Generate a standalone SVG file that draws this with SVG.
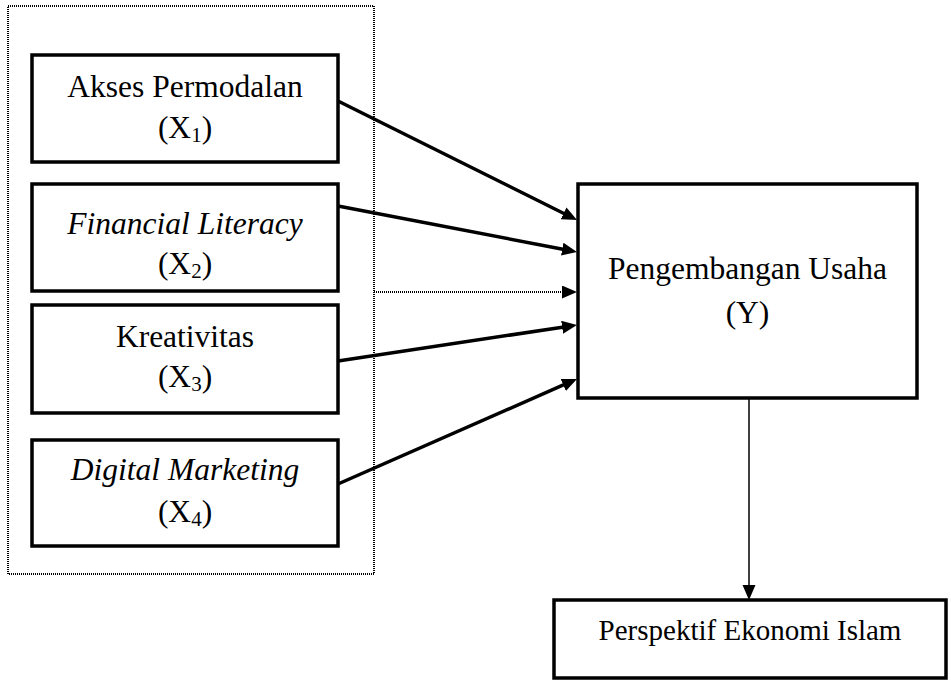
<svg xmlns="http://www.w3.org/2000/svg" width="951" height="680" viewBox="0 0 951 680">
<style>
  .box { fill: #fff; stroke: #000; stroke-width: 3.5; }
  .t { font-family: "Liberation Serif", "Times New Roman", serif; font-size: 31.5px; fill: #000; text-anchor: middle; }
  .i { font-style: italic; }
  .sub { font-size: 21px; }
  .dot { fill: none; stroke: #000; stroke-width: 2; stroke-dasharray: 1 1; shape-rendering: crispEdges; }
  .arr { fill: none; stroke: #000; stroke-width: 3.5; }
  .thin { fill: none; stroke: #000; stroke-width: 1.5; }
</style>
<defs>
  <marker id="ah" markerUnits="userSpaceOnUse" markerWidth="16" markerHeight="14" refX="2" refY="6.5" orient="auto">
    <path d="M0,0 L15,6.5 L0,13 z" fill="#000"/>
  </marker>
</defs>
<rect width="951" height="680" fill="#fff"/>
<g id="group-x">
  <rect class="dot" x="8" y="6" width="366" height="568"/>
</g>
<g id="connectors">
  <line class="arr" x1="338" y1="101" x2="565.4" y2="214.2" marker-end="url(#ah)"/>
  <line class="arr" x1="338" y1="206" x2="564.2" y2="249.5" marker-end="url(#ah)"/>
  <line class="dot" x1="374" y1="292" x2="564" y2="292" marker-end="url(#ah)"/>
  <line class="arr" x1="338" y1="361" x2="564.1" y2="326.9" marker-end="url(#ah)"/>
  <line class="arr" x1="338" y1="484" x2="565.1" y2="384.2" marker-end="url(#ah)"/>
  <line class="thin" x1="749" y1="398" x2="749" y2="587" marker-end="url(#ah)"/>
</g>
<g id="x1">
  <rect class="box" x="32" y="55" width="306" height="107"/>
  <text class="t" x="185" y="97">Akses Permodalan</text>
  <text class="t" x="185" y="138">(X<tspan class="sub" dy="4">1</tspan><tspan dy="-4">)</tspan></text>
</g>
<g id="x2">
  <rect class="box" x="32" y="184" width="306" height="107"/>
  <text class="t i" x="185" y="234">Financial Literacy</text>
  <text class="t" x="185" y="274">(X<tspan class="sub" dy="4">2</tspan><tspan dy="-4">)</tspan></text>
</g>
<g id="x3">
  <rect class="box" x="32" y="305" width="306" height="108"/>
  <text class="t" x="185" y="347">Kreativitas</text>
  <text class="t" x="185" y="387">(X<tspan class="sub" dy="4">3</tspan><tspan dy="-4">)</tspan></text>
</g>
<g id="x4">
  <rect class="box" x="32" y="440" width="306" height="106"/>
  <text class="t i" x="185" y="480">Digital Marketing</text>
  <text class="t" x="185" y="522">(X<tspan class="sub" dy="4">4</tspan><tspan dy="-4">)</tspan></text>
</g>
<g id="y">
  <rect class="box" x="578" y="184" width="339" height="214"/>
  <text class="t" x="747.5" y="279">Pengembangan Usaha</text>
  <text class="t" x="747.5" y="323">(Y)</text>
</g>
<g id="islam">
  <rect class="box" x="554" y="600" width="392" height="78"/>
  <text class="t" x="750" y="640" style="font-size:29px">Perspektif Ekonomi Islam</text>
</g>
</svg>
